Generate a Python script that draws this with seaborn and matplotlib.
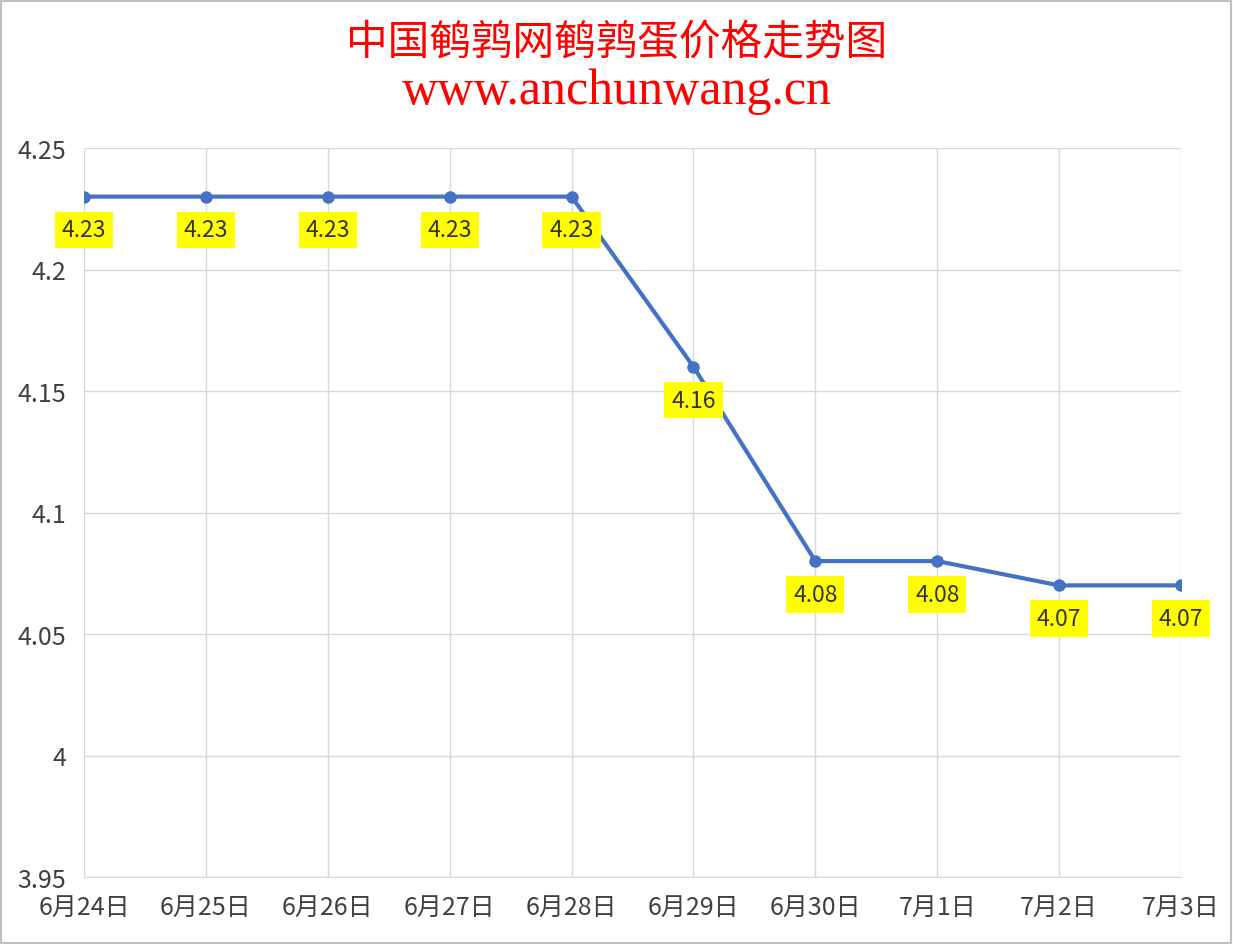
import matplotlib
matplotlib.use("Agg")
import matplotlib.pyplot as plt
import seaborn as sns
import pandas as pd

dates = ["6月24日", "6月25日", "6月26日", "6月27日", "6月28日",
         "6月29日", "6月30日", "7月1日", "7月2日", "7月3日"]
prices = [4.23, 4.23, 4.23, 4.23, 4.23, 4.16, 4.08, 4.08, 4.07, 4.07]
yticks = [3.95, 4, 4.05, 4.1, 4.15, 4.2, 4.25]
ytick_labels = ["3.95", "4", "4.05", "4.1", "4.15", "4.2", "4.25"]

sns.set_style("white")
plt.rcParams['font.family'] = ['Noto Sans CJK SC', 'DejaVu Sans']

df = pd.DataFrame({"pos": range(len(dates)), "price": prices})

fig = plt.figure(figsize=(12.33, 9.45), dpi=100)
ax = fig.add_axes([84 / 1233, 1 - 878 / 945, (1181 - 84) / 1233, (878 - 149) / 945])

sns.lineplot(data=df, x="pos", y="price", ax=ax, color="#4472C4", linewidth=3,
             marker="o", markersize=9, markeredgewidth=0)

for i, v in enumerate(prices):
    ax.annotate(f"{v:.2f}", (i, v), xytext=(0, -24), textcoords="offset points",
                ha="center", va="center", fontsize=16.5, color="#333333",
                bbox=dict(boxstyle="square,pad=0.3", fc="#FFFF00", ec="none"))

ax.set_xlim(0, len(dates) - 1)
ax.set_ylim(3.95, 4.25)
ax.set_xticks(range(len(dates)))
ax.set_xticklabels(dates, fontsize=18, color="#404040")
ax.set_yticks(yticks)
ax.set_yticklabels(ytick_labels, fontsize=18, color="#404040")
ax.tick_params(axis="x", length=0, pad=12)
ax.tick_params(axis="y", length=0, pad=13)
ax.grid(True, color="#D9D9D9", linewidth=1)
ax.set_xlabel("")
ax.set_ylabel("")
for side in ["left", "right", "top"]:
    ax.spines[side].set_visible(False)
ax.spines["bottom"].set_color("#D9D9D9")

fig.text(0.5, 1 - 44 / 945, "中国鹌鹑网鹌鹑蛋价格走势图", ha="center", va="center",
         fontsize=30, color="#FF0000", family=['Noto Sans CJK SC'])
fig.text(0.5, 1 - 92 / 945, "www.anchunwang.cn", ha="center", va="center",
         fontsize=36, color="#FF0000", family=['Liberation Serif'])

border = plt.Rectangle((0.001, 0.001), 0.997, 0.997, transform=fig.transFigure,
                       fill=False, edgecolor="#BFBFBF", linewidth=1.5)
fig.patches.append(border)

fig.savefig("out.png", dpi=100)
